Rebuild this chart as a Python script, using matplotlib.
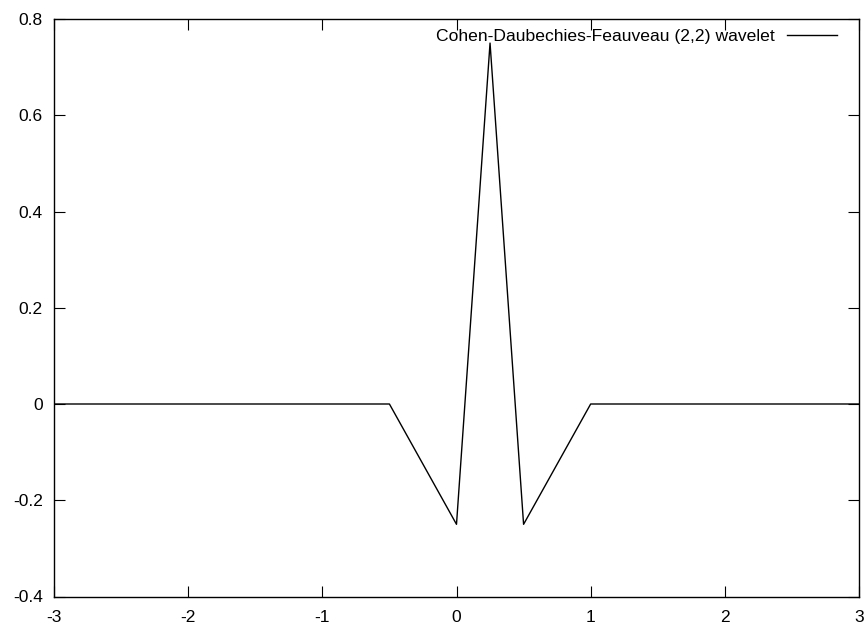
import matplotlib
matplotlib.use('Agg')
import matplotlib.pyplot as plt

plt.rcParams['font.family'] = ['Liberation Sans', 'DejaVu Sans']

# CDF (2,2) wavelet, piecewise linear
x = [-3, -0.5, 0, 0.25, 0.5, 1, 3]
psi = [0, 0, -0.25, 0.75, -0.25, 0, 0]

xticks = [-3, -2, -1, 0, 1, 2, 3]
yticks = [-0.4, -0.2, 0, 0.2, 0.4, 0.6, 0.8]
ytick_labels = ['-0.4', '-0.2', '0', '0.2', '0.4', '0.6', '0.8']

fig = plt.figure(figsize=(8.68, 6.27), dpi=100)
ax = fig.add_axes([54 / 868, 1 - 596.5 / 627, (859 - 54) / 868, (596.5 - 19) / 627])

ax.plot(x, psi, color='black', lw=1.0, label='Cohen-Daubechies-Feauveau (2,2) wavelet')

ax.set_xlim(-3, 3)
ax.set_ylim(-0.4, 0.8)
ax.set_xticks(xticks)
ax.set_xticklabels([str(t) for t in xticks])
ax.set_yticks(yticks)
ax.set_yticklabels(ytick_labels)
ax.tick_params(direction='in', length=8, width=0.8, top=True, right=True,
               labelsize=12.5, colors='black')
ax.tick_params(axis='x', pad=10)
ax.tick_params(axis='y', pad=8)
for s in ax.spines.values():
    s.set_linewidth(1.0)

leg = ax.legend(loc='upper right', frameon=False, markerfirst=False,
                fontsize=12.6, handlelength=2.86, handletextpad=0.69,
                borderpad=0, borderaxespad=0,
                bbox_to_anchor=(837 / 868, 1 - 29 / 627),
                bbox_transform=fig.transFigure)

fig.savefig('out.png', dpi=100)
